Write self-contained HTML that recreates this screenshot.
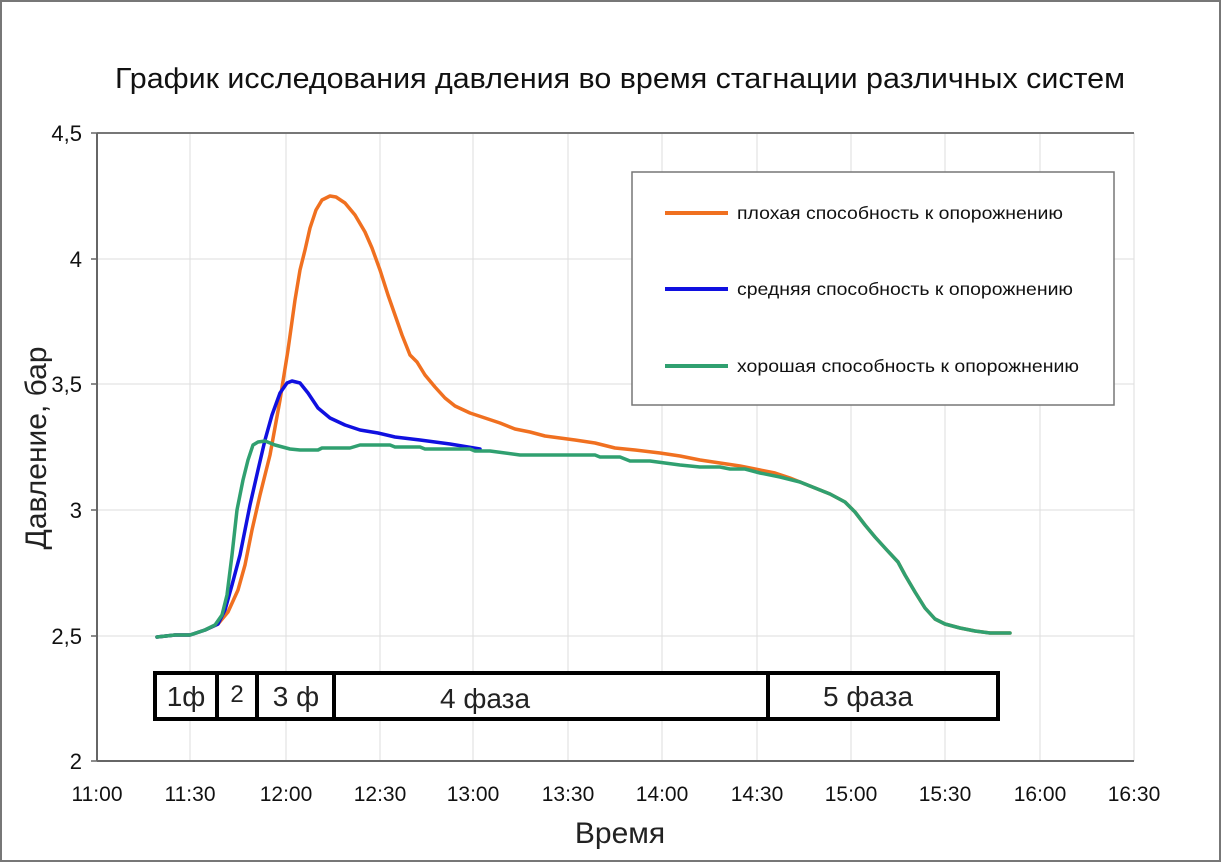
<!DOCTYPE html>
<html><head><meta charset="utf-8"><style>
body{margin:0;background:#fff}
svg{display:block;font-family:"Liberation Sans",sans-serif}
</style></head><body>
<svg width="1222" height="863" viewBox="0 0 1222 863">
<rect x="1" y="1" width="1219" height="860" fill="#fff" stroke="#777" stroke-width="2"/>
<text x="620" y="88" font-size="29" text-anchor="middle" fill="#111" textLength="1010" lengthAdjust="spacingAndGlyphs">График исследования давления во время стагнации различных систем</text>
<g stroke="#ddd" stroke-width="1">
<line x1="190" y1="133" x2="190" y2="761"/><line x1="286" y1="133" x2="286" y2="761"/>
<line x1="380" y1="133" x2="380" y2="761"/><line x1="473" y1="133" x2="473" y2="761"/>
<line x1="568" y1="133" x2="568" y2="761"/><line x1="662" y1="133" x2="662" y2="761"/>
<line x1="757" y1="133" x2="757" y2="761"/><line x1="851" y1="133" x2="851" y2="761"/>
<line x1="945" y1="133" x2="945" y2="761"/><line x1="1040" y1="133" x2="1040" y2="761"/>
<line x1="1134" y1="133" x2="1134" y2="761"/>
<line x1="97" y1="259" x2="1134" y2="259"/><line x1="97" y1="384" x2="1134" y2="384"/>
<line x1="97" y1="510" x2="1134" y2="510"/><line x1="97" y1="636" x2="1134" y2="636"/>
</g>
<line x1="97" y1="133" x2="1134" y2="133" stroke="#777" stroke-width="2"/>
<line x1="97" y1="133" x2="97" y2="761" stroke="#666" stroke-width="2"/>
<line x1="97" y1="761" x2="1134" y2="761" stroke="#666" stroke-width="2"/>
<g stroke="#666" stroke-width="1.5">
<line x1="91" y1="133" x2="97" y2="133"/><line x1="91" y1="259" x2="97" y2="259"/><line x1="91" y1="384" x2="97" y2="384"/><line x1="91" y1="510" x2="97" y2="510"/><line x1="91" y1="636" x2="97" y2="636"/><line x1="91" y1="761" x2="97" y2="761"/>
</g>
<g font-size="22" text-anchor="end" fill="#111">
<text x="82" y="141">4,5</text><text x="82" y="267">4</text><text x="82" y="392">3,5</text><text x="82" y="518">3</text><text x="82" y="644">2,5</text><text x="82" y="769">2</text>
</g>
<g font-size="21" text-anchor="middle" fill="#111">
<text x="97" y="801">11:00</text><text x="190" y="801">11:30</text><text x="286" y="801">12:00</text><text x="380" y="801">12:30</text><text x="473" y="801">13:00</text><text x="568" y="801">13:30</text><text x="662" y="801">14:00</text><text x="757" y="801">14:30</text><text x="851" y="801">15:00</text><text x="945" y="801">15:30</text><text x="1040" y="801">16:00</text><text x="1134" y="801">16:30</text>
</g>
<text x="620" y="843" font-size="30" text-anchor="middle" fill="#222">Время</text>
<text transform="translate(46,448) rotate(-90)" font-size="30" text-anchor="middle" fill="#222">Давление, бар</text>
<g fill="none" stroke-width="3.5" stroke-linejoin="round" stroke-linecap="round">
<polyline stroke="#f07020" points="157,637 175,635 190,635 205,630 218,624 228,612 238,590 245,565 252,530 260,495 270,455 280,400 288,350 295,300 300,270 305,250 310,228 316,210 322,200 330,196 336,197 345,203 355,215 365,232 372,248 380,270 388,295 395,315 402,335 410,355 417,362 425,375 435,387 445,398 455,406 470,413 485,418 500,423 515,429 530,432 545,436 560,438 575,440 595,443 615,448 635,450 660,453 680,456 700,460 720,463 740,466 760,470 775,473 790,478 800,482 815,488 830,494 845,502 855,512 865,525 875,537 885,548 898,562 905,575 915,592 925,608 935,619 945,624 960,628 975,631 990,633 1010,633"/>
<polyline stroke="#1010e0" points="157,637 175,635 190,635 205,630 218,624 225,610 232,585 240,555 245,530 250,505 258,470 265,440 272,415 280,393 287,383 292,381 300,383 308,393 318,408 330,418 345,425 360,430 378,433 395,437 420,440 450,444 480,449"/>
<polyline stroke="#30a070" points="157,637 175,635 190,635 205,630 215,625 222,615 227,595 232,555 237,510 243,480 248,460 253,445 258,442 265,441 275,445 290,449 300,450 318,450 322,448 350,448 360,445 390,445 395,447 420,447 425,449 470,449 475,451 490,451 520,455 595,455 600,457 620,457 630,461 650,461 680,465 700,467 720,467 730,469 745,469 760,473 780,477 800,482 815,488 830,494 845,502 855,512 865,525 875,537 885,548 898,562 905,575 915,592 925,608 935,619 945,624 960,628 975,631 990,633 1010,633"/>
</g>
<rect x="632" y="172" width="482" height="233" fill="#fff" stroke="#777" stroke-width="1.5"/>
<g stroke-width="4">
<line x1="665" y1="213" x2="728" y2="213" stroke="#f07020"/>
<line x1="665" y1="289" x2="728" y2="289" stroke="#1010e0"/>
<line x1="665" y1="366" x2="728" y2="366" stroke="#30a070"/>
</g>
<g font-size="17.5" fill="#111">
<text x="737" y="219" textLength="326" lengthAdjust="spacingAndGlyphs">плохая способность к опорожнению</text>
<text x="737" y="295" textLength="336" lengthAdjust="spacingAndGlyphs">средняя способность к опорожнению</text>
<text x="737" y="372" textLength="342" lengthAdjust="spacingAndGlyphs">хорошая способность к опорожнению</text>
</g>
<rect x="155" y="673" width="843" height="46" fill="#fff" stroke="#000" stroke-width="4"/>
<g stroke="#000" stroke-width="4"><line x1="217" y1="673" x2="217" y2="719"/><line x1="257" y1="673" x2="257" y2="719"/><line x1="334" y1="673" x2="334" y2="719"/><line x1="768" y1="673" x2="768" y2="719"/></g>
<g font-size="28" text-anchor="middle" fill="#222">
<text x="186" y="706">1ф</text><text x="237" y="702" font-size="24">2</text><text x="296" y="706">3 ф</text><text x="485" y="708">4 фаза</text><text x="868" y="706">5 фаза</text>
</g>
</svg>
</body></html>
